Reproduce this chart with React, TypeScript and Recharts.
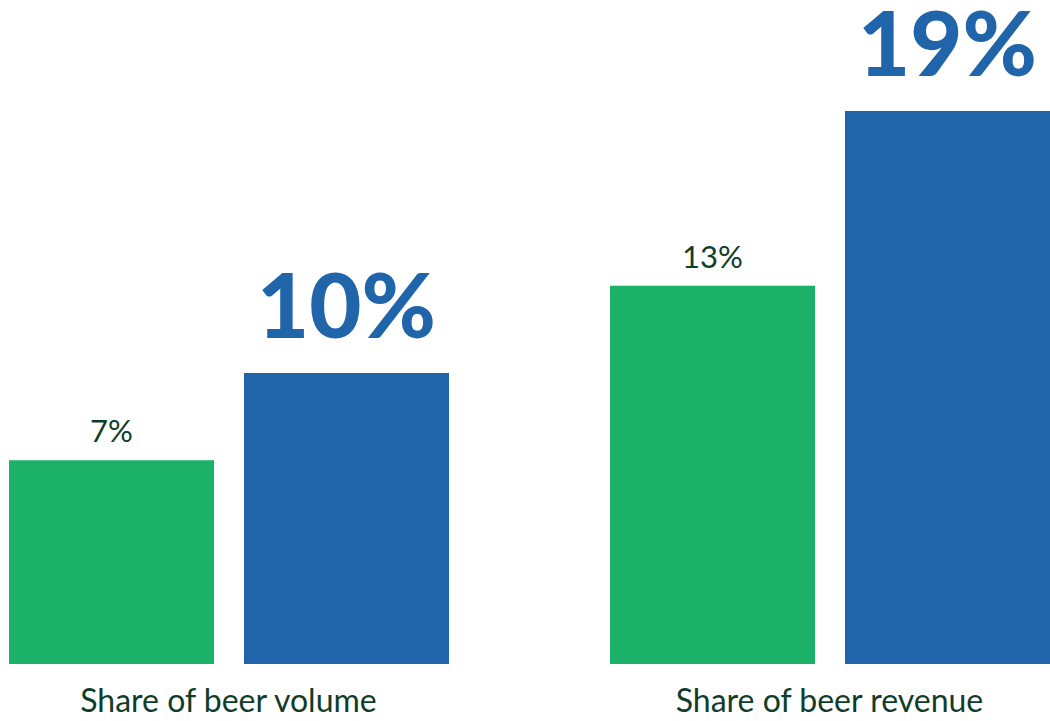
import { BarChart, Bar, XAxis, YAxis, LabelList } from "recharts"

const categories = ["Share of beer volume", "Share of beer revenue"]
const greenValues = [7, 13]
const blueValues = [10, 19]

const data = categories.map((name, i) => ({
  name,
  green: greenValues[i],
  blue: blueValues[i],
}))

const GREEN = "#1bb168"
const BLUE = "#2064aa"
const TEXT = "#0f3d2a"

function SmallLabel(props: any) {
  const { x, y, width, value } = props
  return (
    <text x={x + width / 2} y={y - 18} textAnchor="middle" fill={TEXT} fontSize={31} fontFamily="Lato, 'Open Sans', sans-serif">
      {value}%
    </text>
  )
}

function BigLabel(props: any) {
  const { x, y, width, value } = props
  return (
    <text x={x + width / 2} y={y - 35} textAnchor="middle" fill={BLUE} fontSize={90} fontWeight={900} letterSpacing={0} fontFamily="Lato, 'Open Sans', sans-serif">
      {value}%
    </text>
  )
}

export default function App() {
  return (
    <div style={{ position: "absolute", left: 0, top: 0, width: 1050, height: 721, overflow: "hidden", background: "#fff" }}>
      <div style={{ position: "absolute", left: -72, top: 0 }}>
        <BarChart width={1202} height={721} data={data} margin={{ top: 111, right: 0, bottom: 0, left: 0 }} barGap={30}>
          <XAxis
            dataKey="name"
            axisLine={false}
            tickLine={false}
            height={57}
            interval={0}
            tick={{ fill: TEXT, fontSize: 32, fontFamily: "Lato, 'Open Sans', sans-serif", dy: 17 }}
          />
          <YAxis hide domain={[0, 19]} />
          <Bar dataKey="green" fill={GREEN} barSize={205} isAnimationActive={false}>
            <LabelList dataKey="green" content={SmallLabel} />
          </Bar>
          <Bar dataKey="blue" fill={BLUE} barSize={205} isAnimationActive={false}>
            <LabelList dataKey="blue" content={BigLabel} />
          </Bar>
        </BarChart>
      </div>
    </div>
  )
}
